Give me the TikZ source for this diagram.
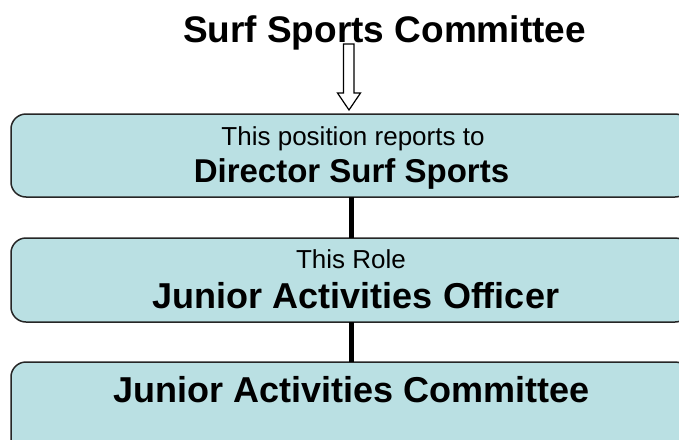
\documentclass[tikz,border=0pt]{standalone}
\usepackage{fontspec}
\setmainfont{Liberation Sans}
\definecolor{boxfill}{RGB}{186,224,227}
\begin{document}
\begin{tikzpicture}[x=1pt,y=-1pt,
  box/.style={draw=black!85, line width=1.5pt, fill=boxfill, rounded corners=15pt,
    minimum width=679pt, inner sep=0pt, outer sep=0pt},
  txt/.style={anchor=base, inner sep=0pt, outer sep=0pt},
  conn/.style={line width=5pt, draw=black}]
\useasboundingbox (0,0) rectangle (679,439);
\clip (0,0) rectangle (679,439);
\fill[white] (0,0) rectangle (679,439);
% title
\node[txt, font=\fontsize{37}{40}\selectfont\bfseries] (title) at (384.5,42) {Surf Sports Committee};
% boxes
\node[box, minimum height=83pt] (b1) at (350.5,155.5) {};
\node[box, minimum height=84pt] (b2) at (350.5,280) {};
\node[box, minimum height=98pt] (b3) at (350.5,411) {};
% connectors
\draw[conn] ([xshift=1pt]b1.south) -- ([xshift=1pt]b2.north);
\draw[conn] ([xshift=1pt]b2.south) -- ([xshift=1pt]b3.north);
% hollow arrow
\coordinate (atip) at (349,110);
\draw[line width=1.2pt, fill=white, line join=miter]
  (343.5,44) -- (354,44) -- (354,93) -- (360.5,93) -- (atip) -- (337.5,93) -- (343.5,93) -- cycle;
% texts
\node[txt, font=\fontsize{26}{28}\selectfont] (t1a) at (353,145) {This position reports to};
\node[txt, font=\fontsize{33}{36}\selectfont\bfseries] (t1b) at (351.5,182) {Director Surf Sports};
\node[txt, font=\fontsize{26}{28}\selectfont] (t2a) at (351,268) {This Role};
\node[txt, font=\fontsize{36}{38}\selectfont\bfseries] (t2b) at (356,308) {Junior Activities Officer};
\node[txt, font=\fontsize{36}{38}\selectfont\bfseries] (t3) at (351.5,402) {Junior Activities Committee};
\end{tikzpicture}
\end{document}
